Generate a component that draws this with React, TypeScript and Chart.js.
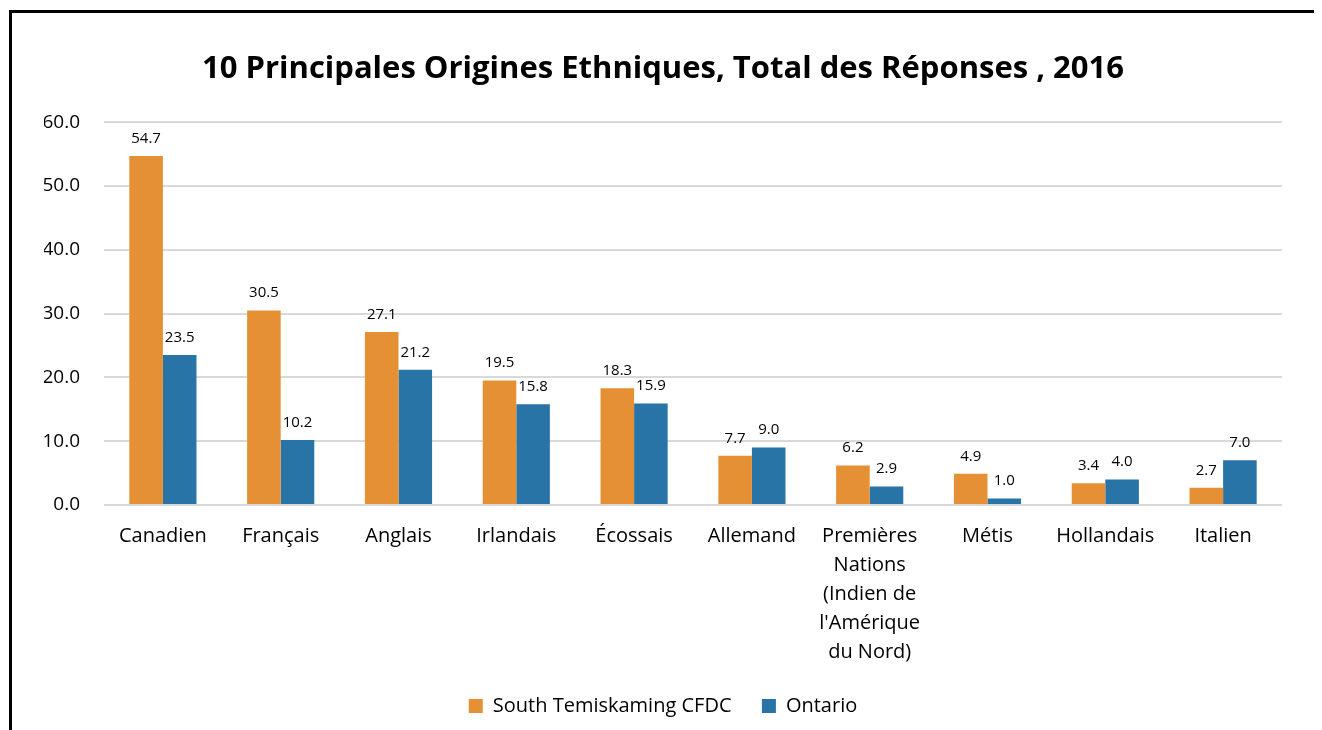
import React, { useEffect, useRef } from "react";
import { Chart, registerables } from "chart.js";

Chart.register(...registerables);

const TITLE = "10 Principales Origines Ethniques, Total des Réponses , 2016";
const CATEGORIES: (string | string[])[] = [
  "Canadien",
  "Français",
  "Anglais",
  "Irlandais",
  "Écossais",
  "Allemand",
  ["Premières", "Nations", "(Indien de", "l'Amérique", "du Nord)"],
  "Métis",
  "Hollandais",
  "Italien",
];
const SERIES_NAMES = ["South Temiskaming CFDC", "Ontario"];
const SOUTH_TEMISKAMING = [54.7, 30.5, 27.1, 19.5, 18.3, 7.7, 6.2, 4.9, 3.4, 2.7];
const ONTARIO = [23.5, 10.2, 21.2, 15.8, 15.9, 9.0, 2.9, 1.0, 4.0, 7.0];
const COLORS = ["#E69036", "#2874A6"];
const FONT = "'Open Sans', 'Noto Sans', sans-serif";

const dataLabels = {
  id: "dataLabels",
  afterDatasetsDraw(chart: any) {
    const ctx = chart.ctx;
    ctx.save();
    ctx.font = `15px ${FONT}`;
    ctx.fillStyle = "#000";
    ctx.textAlign = "center";
    ctx.textBaseline = "bottom";
    chart.data.datasets.forEach((ds: any, i: number) => {
      const meta = chart.getDatasetMeta(i);
      meta.data.forEach((bar: any, j: number) => {
        ctx.fillText(Number(ds.data[j]).toFixed(1), bar.x, bar.y - 10);
      });
    });
    ctx.restore();
  },
};

export default function App() {
  const ref = useRef<HTMLCanvasElement>(null);
  useEffect(() => {
    document.body.style.overflow = "hidden";
    if (!ref.current) return;
    const chart = new Chart(ref.current, {
      type: "bar",
      data: {
        labels: CATEGORIES,
        datasets: [
          { label: SERIES_NAMES[0], data: SOUTH_TEMISKAMING, backgroundColor: COLORS[0] },
          { label: SERIES_NAMES[1], data: ONTARIO, backgroundColor: COLORS[1] },
        ],
      },
      options: {
        animation: false,
        responsive: false,
        layout: { padding: { left: 32, right: 32, top: 0, bottom: 7 } },
        datasets: { bar: { categoryPercentage: 0.57, barPercentage: 1 } },
        plugins: {
          title: {
            display: true,
            text: TITLE,
            color: "#000",
            font: { family: FONT, size: 31, weight: "bold" },
            padding: { top: 38, bottom: 34 },
          },
          legend: {
            position: "bottom",
            labels: {
              color: "#000",
              font: { family: FONT, size: 20 },
              boxWidth: 14,
              boxHeight: 14,
              padding: 20,
              generateLabels: (c: any) => {
                const items = Chart.defaults.plugins.legend.labels.generateLabels(c);
                return items.map((it: any, i: number) =>
                  i < items.length - 1 ? { ...it, text: it.text + "  " } : it
                );
              },
            },
          },
          tooltip: { enabled: false },
        },
        scales: {
          x: {
            grid: { display: false },
            border: { display: false },
            ticks: {
              color: "#000",
              font: { family: FONT, size: 20, lineHeight: 1.45 },
              maxRotation: 0,
              autoSkip: false,
              padding: 9,
            },
          },
          y: {
            min: 0,
            max: 60,
            afterFit: (scale: any) => {
              scale.width = 60;
            },
            grid: { color: "#D9D9D9", lineWidth: 2, drawTicks: false },
            border: { display: false },
            ticks: {
              stepSize: 10,
              color: "#000",
              font: { family: FONT, size: 19 },
              padding: 24,
              callback: (v: any) => Number(v).toFixed(1),
            },
          },
        },
      },
      plugins: [dataLabels],
    });
    return () => chart.destroy();
  }, []);
  return (
    <div
      style={{
        marginLeft: 1,
        marginTop: 2,
        width: 1302,
        height: 720,
        border: "3px solid #000",
        borderBottom: "none",
        background: "#fff",
      }}
    >
      <canvas ref={ref} width={1302} height={720} style={{ display: "block" }} />
    </div>
  );
}
